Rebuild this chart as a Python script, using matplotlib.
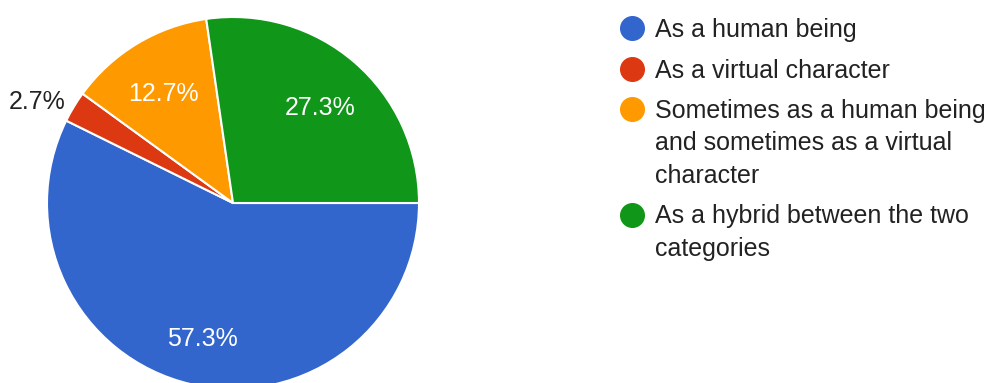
import matplotlib.pyplot as plt
from matplotlib.lines import Line2D
from matplotlib.transforms import ScaledTranslation

plt.rcParams['font.family'] = ['Liberation Sans', 'DejaVu Sans']

# data
categories = ['As a human being',
              'As a virtual character',
              'Sometimes as a human being\nand sometimes as a virtual\ncharacter',
              'As a hybrid between the two\ncategories']
shares = [57.3, 2.7, 12.7, 27.3]
colors = ['#3366CC', '#DC3912', '#FF9900', '#109618']

W, H = 987, 383
fig = plt.figure(figsize=(W / 100, H / 100), dpi=100)
# pie is clipped at the bottom like the original screenshot
ax = fig.add_axes([47 / W, -6 / H, 372 / W, 372 / H])

outside = ['' if s >= 5 else f'{s:.1f}%' for s in shares]
wedges, texts, autotexts = ax.pie(
    shares, colors=colors, startangle=0, counterclock=False,
    labels=outside, labeldistance=1.05,
    autopct=lambda p: f'{p:.1f}%' if p >= 5 else '',
    pctdistance=0.72,
    wedgeprops=dict(edgecolor='white', linewidth=1.5),
    textprops=dict(fontsize=18),
)
# inside labels sit a few px lower in the original
shift = ScaledTranslation(0, -6 / 100, fig.dpi_scale_trans)
for t in autotexts:
    t.set_color('white')
    t.set_transform(t.get_transform() + shift)
for t in texts:
    t.set_color('#222222')
ax.set_xlim(-1, 1)
ax.set_ylim(-1, 1)
ax.set_aspect('equal')

# legend, google-forms style: dot next to the first line of each entry
line_h = 32.5     # px between wrapped lines
entry_gap = 40.5  # px from last line of one entry to next entry
y = 28.0          # px from top, centre of first line
for label, c in zip(categories, colors):
    fig.add_artist(Line2D([632 / W], [1 - y / H], marker='o', markersize=17,
                          markerfacecolor=c, markeredgecolor=c,
                          linestyle='none', transform=fig.transFigure))
    lines = label.split('\n')
    for i, ln in enumerate(lines):
        fig.text(655 / W, 1 - (y + 9 + i * line_h) / H, ln, fontsize=18,
                 color='#222222', va='baseline', ha='left')
    y += (len(lines) - 1) * line_h + entry_gap

fig.savefig('out.png', dpi=100)
